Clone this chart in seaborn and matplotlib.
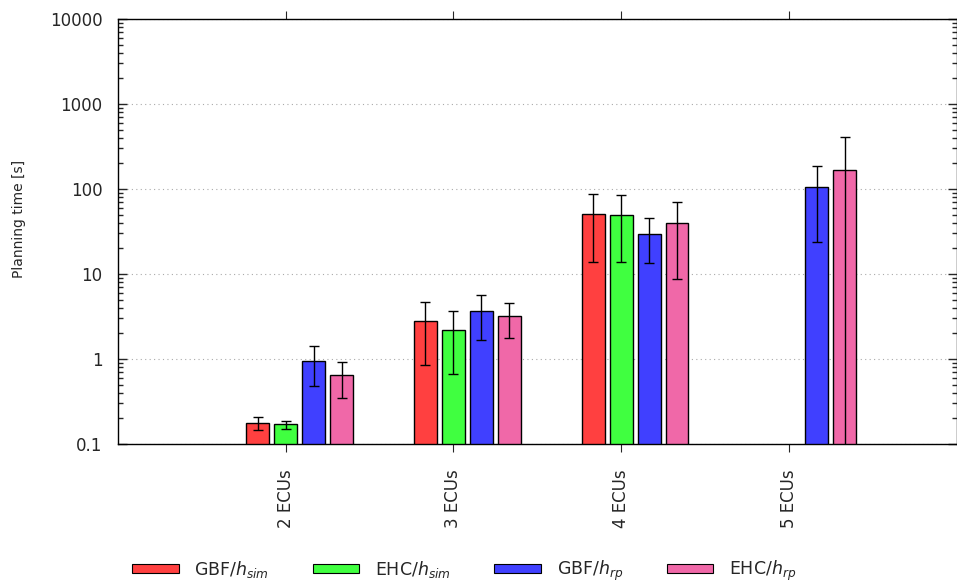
import numpy as np
import pandas as pd
import seaborn as sns
import matplotlib
matplotlib.use("Agg")
from matplotlib import pyplot as plt
from matplotlib.patches import Patch
from matplotlib.ticker import LogLocator, NullFormatter

# data
configs = ["2 ECUs", "3 ECUs", "4 ECUs", "5 ECUs"]
methods = ["GBF/$h_{sim}$", "EHC/$h_{sim}$", "GBF/$h_{rp}$", "EHC/$h_{rp}$"]
gbf_sim = [0.178, 2.78, 51.0, np.nan]
ehc_sim = [0.170, 2.17, 49.0, np.nan]
gbf_rp = [0.95, 3.67, 29.3, 106.0]
ehc_rp = [0.64, 3.20, 39.8, 169.0]
gbf_sim_err = [0.031, 1.92, 37.0, np.nan]
ehc_sim_err = [0.018, 1.50, 35.0, np.nan]
gbf_rp_err = [0.47, 2.00, 15.8, 82.0]
ehc_rp_err = [0.29, 1.42, 31.0, 236.0]

colors = ["#ff4040", "#40ff40", "#4040ff", "#f068a8"]

means = [gbf_sim, ehc_sim, gbf_rp, ehc_rp]
errs = [gbf_sim_err, ehc_sim_err, gbf_rp_err, ehc_rp_err]

rows = []
for m, vals in zip(methods, means):
    for c, v in zip(configs, vals):
        rows.append({"Config": c, "Method": m, "Time": v})
df = pd.DataFrame(rows)

sns.set_style("ticks")
plt.rcParams['font.family'] = ['DejaVu Sans']

fig = plt.figure(figsize=(9.57, 5.86), dpi=100)
ax = fig.add_axes([118 / 957, 142 / 586, 838.5 / 957, 425 / 586])

sns.barplot(data=df, x="Config", y="Time", hue="Method", order=configs,
            hue_order=methods, palette=colors, width=4 / 6, gap=0.18,
            errorbar=None, edgecolor="black", linewidth=1, saturation=1,
            legend=False, ax=ax)

# gnuplot-style clusters: second bar sits on the tick
for p in ax.patches:
    p.set_x(p.get_x() + 1 / 12)

for j, (vals, ee) in enumerate(zip(means, errs)):
    xs = np.arange(len(configs)) + (j - 1) / 6
    ax.errorbar(xs, vals, yerr=ee, fmt="none", ecolor="black",
                elinewidth=1, capsize=3.6, capthick=1, zorder=5)

ax.set_yscale("log")
ax.set_ylim(0.1, 10000)
ax.set_xlim(-1, 4)
ax.set_yticks([0.1, 1, 10, 100, 1000, 10000])
ax.set_yticklabels(["0.1", "1", "10", "100", "1000", "10000"])
ax.yaxis.set_minor_locator(LogLocator(base=10, subs=np.arange(2, 10)))
ax.yaxis.set_minor_formatter(NullFormatter())

ax.grid(axis="y", which="major", linestyle=(0, (1, 3)), color="#aaaaaa", linewidth=0.8)
ax.set_axisbelow(True)

for s in ax.spines.values():
    s.set_visible(True)
    s.set_linewidth(1)
    s.set_color("black")

ax.tick_params(axis="y", which="major", direction="in", length=6.5, width=1,
               left=True, right=True, labelsize=12, pad=11)
ax.tick_params(axis="y", which="minor", direction="in", length=3.6, width=1,
               left=True, right=True)
ax.tick_params(axis="x", which="major", direction="out", length=6, width=0.8,
               bottom=True, top=True, labelsize=12, pad=12)
plt.setp(ax.get_xticklabels(), rotation=90, ha="center", va="top")

ax.set_xlabel("")
ax.set_ylabel("Planning time [s]", fontsize=10)
ax.yaxis.set_label_coords(-0.110, 0.53)

handles = [Patch(facecolor=c, edgecolor="black", linewidth=0.8) for c in colors]
fig.legend(handles, methods, loc="center", bbox_to_anchor=(464 / 957, 15 / 586),
           ncol=4, frameon=False, fontsize=12.5, handlelength=2.7,
           handleheight=0.42, handletextpad=0.9, columnspacing=2.5)

plt.savefig("out.png", dpi=100)
